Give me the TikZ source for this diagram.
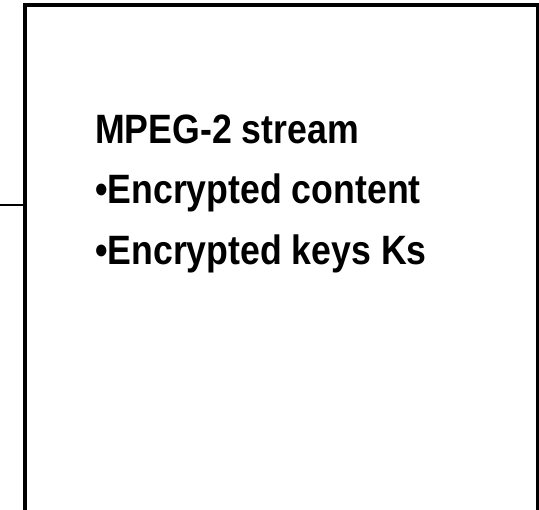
\documentclass[tikz,border=0pt]{standalone}
\usepackage{fontspec}
\setmainfont{Liberation Sans}[FakeStretch=0.87]
\begin{document}
\begin{tikzpicture}[x=1pt,y=1pt,
  frame/.style={draw=black, line width=3.5pt, inner sep=0pt, outer sep=0pt},
  label/.style={anchor=base west, inner sep=0pt, font=\fontsize{41}{49}\selectfont\bfseries},
  wire/.style={draw=black, line width=2pt}]
\useasboundingbox (0,0) rectangle (539,510);
\clip (0,0) rectangle (539,510);
\node[frame, minimum width=512.5pt, minimum height=525pt, anchor=north west] (box) at (25,505) {};
\node[label] (t1) at (95,366) {MPEG-2 stream};
\node[label] (t2) at (95,306) {•Encrypted content};
\node[label] (t3) at (95,245) {•Encrypted keys Ks};
\coordinate (in) at (0,305);
\draw[wire] (in) -- (in -| box.west);
\end{tikzpicture}
\end{document}
